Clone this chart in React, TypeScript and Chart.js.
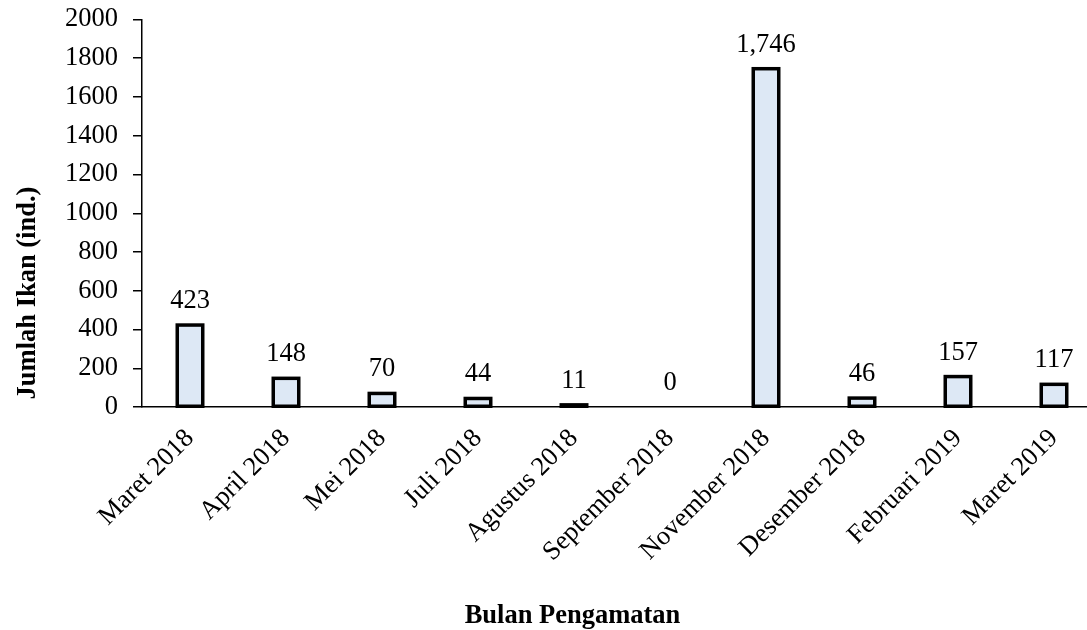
import React, { useEffect, useRef } from "react";
import { Chart, registerables } from "chart.js";

Chart.register(...registerables);

const categories = [
  "Maret 2018",
  "April 2018",
  "Mei 2018",
  "Juli 2018",
  "Agustus 2018",
  "September 2018",
  "November 2018",
  "Desember 2018",
  "Februari 2019",
  "Maret 2019",
];
const values = [423, 148, 70, 44, 11, 0, 1746, 46, 157, 117];
const yMin = 0;
const yMax = 2000;
const yStep = 200;
const yTitle = "Jumlah Ikan (ind.)";
const xTitle = "Bulan Pengamatan";

const FONT = "'Liberation Serif', 'Times New Roman', serif";
const FS = 26.5;

const barsAndLabels = {
  id: "barsAndLabels",
  afterDatasetsDraw(chart: any) {
    const ctx = chart.ctx;
    const meta = chart.getDatasetMeta(0);
    ctx.save();
    // bar outlines (stroke centred on the bar edges)
    ctx.strokeStyle = "#000";
    ctx.lineWidth = 3.5;
    ctx.lineJoin = "miter";
    meta.data.forEach((bar: any, i: number) => {
      if (values[i] === 0) return;
      const h = bar.base - bar.y;
      ctx.strokeRect(bar.x - bar.width / 2, bar.y, bar.width, h);
    });
    // value labels
    ctx.font = `${FS}px ${FONT}`;
    ctx.fillStyle = "#000";
    ctx.textAlign = "center";
    ctx.textBaseline = "alphabetic";
    meta.data.forEach((bar: any, i: number) => {
      ctx.fillText(values[i].toLocaleString("en-US"), bar.x, bar.y - 17);
    });
    ctx.restore();
  },
  afterDraw(chart: any) {
    const ctx = chart.ctx;
    ctx.save();
    ctx.fillStyle = "#000";
    ctx.font = `bold ${FS}px ${FONT}`;
    ctx.textAlign = "center";
    ctx.textBaseline = "alphabetic";
    // x axis title
    ctx.fillText(xTitle, 572.5, 623);
    // y axis title
    ctx.translate(35, 293);
    ctx.rotate(-Math.PI / 2);
    ctx.fillText(yTitle, 0, 0);
    ctx.restore();
  },
};

export default function App() {
  const ref = useRef<HTMLCanvasElement | null>(null);
  useEffect(() => {
    if (!ref.current) return;
    const chart = new Chart(ref.current, {
      type: "bar",
      data: {
        labels: categories,
        datasets: [
          {
            data: values,
            backgroundColor: "#dde8f5",
            borderWidth: 0,
            barPercentage: 0.9,
            categoryPercentage: 0.295,
          },
        ],
      },
      options: {
        animation: false,
        responsive: false,
        maintainAspectRatio: false,
        layout: { padding: { top: 19.5, right: 8, left: 0, bottom: 0 } },
        plugins: { legend: { display: false }, tooltip: { enabled: false } },
        scales: {
          x: {
            grid: { display: false, drawTicks: false },
            border: { display: true, color: "#000", width: 1.5 },
            ticks: {
              color: "#000",
              font: { family: FONT, size: FS },
              minRotation: 45,
              maxRotation: 45,
              padding: 16,
              autoSkip: false,
            },
            title: { display: false },
            afterFit(scale: any) {
              scale.height = 223;
            },
          },
          y: {
            min: yMin,
            max: yMax,
            grid: {
              display: true,
              drawOnChartArea: false,
              drawTicks: true,
              tickLength: 9,
              color: "#000",
              lineWidth: 1.5,
            },
            border: { display: true, color: "#000", width: 1.5 },
            ticks: {
              stepSize: yStep,
              color: "#000",
              font: { family: FONT, size: FS },
              padding: 15,
              callback: (v: any) => String(v),
            },
            title: { display: false },
            afterFit(scale: any) {
              scale.width = 142;
              scale.paddingTop = 0;
              scale.paddingBottom = 0;
            },
          },
        },
      },
      plugins: [barsAndLabels],
    });
    return () => chart.destroy();
  }, []);
  return (
    <div
      style={{
        position: "absolute",
        left: 0,
        top: 0,
        width: 1087,
        height: 630,
        overflow: "hidden",
        background: "#fff",
      }}
    >
      <canvas ref={ref} width={1110} height={630} style={{ display: "block" }} />
    </div>
  );
}
